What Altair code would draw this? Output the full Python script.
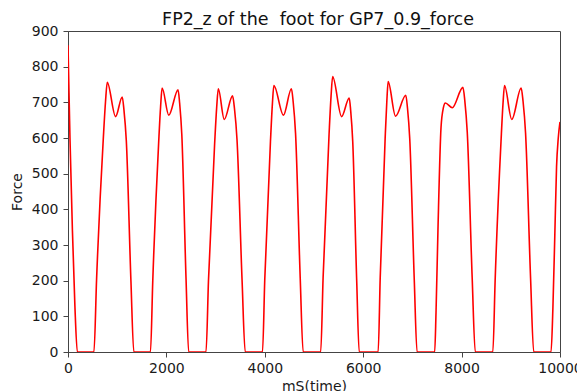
import altair as alt
import pandas as pd

# Key points of the force trace (ms, force)
time_ms = [
    0, 40, 90, 140, 190,
    527, 581, 717, 763, 798, 967, 1102, 1137, 1185, 1279, 1338,
    1676, 1723, 1842, 1882, 1913, 2048, 2237, 2269, 2313, 2399, 2453,
    2805, 2855, 2980, 3022, 3055, 3176, 3345, 3384, 3435, 3538, 3602,
    3953, 3999, 4115, 4154, 4184, 4379, 4541, 4577, 4625, 4720, 4780,
    5136, 5185, 5306, 5347, 5379, 5561, 5716, 5746, 5787, 5868, 5919,
    6304, 6345, 6446, 6481, 6507, 6657, 6866, 6900, 6946, 7038, 7095,
    7453, 7480, 7521, 7582, 7630, 7670, 7812, 8027, 8065, 8115, 8215, 8278,
    8635, 8682, 8801, 8841, 8872, 9020, 9211, 9249, 9300, 9402, 9466,
    9818, 9855, 9895, 9930, 9965, 10000,
]
force = [
    860, 600, 340, 130, 0,
    0, 204, 597, 703, 756, 660, 715, 679, 593, 200, 0,
    0, 200, 585, 688, 740, 664, 735, 698, 610, 206, 0,
    0, 199, 583, 686, 738, 652, 718, 682, 596, 201, 0,
    0, 202, 590, 695, 747, 664, 738, 701, 613, 207, 0,
    0, 208, 610, 718, 772, 660, 712, 676, 591, 199, 0,
    0, 205, 599, 705, 758, 661, 720, 684, 598, 202, 0,
    0, 110, 351, 630, 685, 698, 685, 742, 705, 616, 208, 0,
    0, 202, 590, 695, 747, 652, 740, 703, 614, 207, 0,
    0, 120, 330, 520, 600, 645,
]

x_ticks = [0, 2000, 4000, 6000, 8000, 10000]
y_ticks = [0, 100, 200, 300, 400, 500, 600, 700, 800, 900]

df = pd.DataFrame({"t": time_ms, "f": force})

FONT = "DejaVu Sans"
TICK_FS = 14
AX = dict(
    format="d",
    grid=False,
    labelFlush=False,
    labelOverlap=False,
    tickSize=5,
    labelFont=FONT,
    titleFont=FONT,
    labelFontSize=TICK_FS,
    titleFontSize=TICK_FS,
    titleFontWeight="normal",
    labelColor="#1a1a1a",
    titleColor="#1a1a1a",
    domainColor="#444",
    tickColor="#444",
)

chart = (
    alt.Chart(df)
    .mark_line(color="#ff0000", strokeWidth=1.6, interpolate="monotone", clip=True)
    .encode(
        x=alt.X(
            "t:Q",
            scale=alt.Scale(domain=[0, 10000], nice=False, zero=False),
            axis=alt.Axis(
                title="mS(time)",
                values=x_ticks,
                labelPadding=4,
                titlePadding=4,
                **AX,
            ),
        ),
        y=alt.Y(
            "f:Q",
            scale=alt.Scale(domain=[0, 900], nice=False),
            axis=alt.Axis(
                title="Force",
                values=y_ticks,
                labelPadding=5,
                titlePadding=7,
                **AX,
            ),
        ),
    )
    .properties(
        width=492,
        height=321,
        background="white",
        title=alt.TitleParams(
            "FP2_z of the \u00a0foot for GP7_0.9_force",
            font=FONT,
            fontSize=17.5,
            fontWeight="normal",
            color="#111",
            offset=-4,
            dx=4,
        ),
        autosize=alt.AutoSizeParams(type="none"),
        padding={"left": 60, "top": 23, "right": 17, "bottom": 42},
    )
    .configure_view(stroke="#444", strokeWidth=1)
)

chart.save("out.html", embed_options={"renderer": "svg", "actions": False})
